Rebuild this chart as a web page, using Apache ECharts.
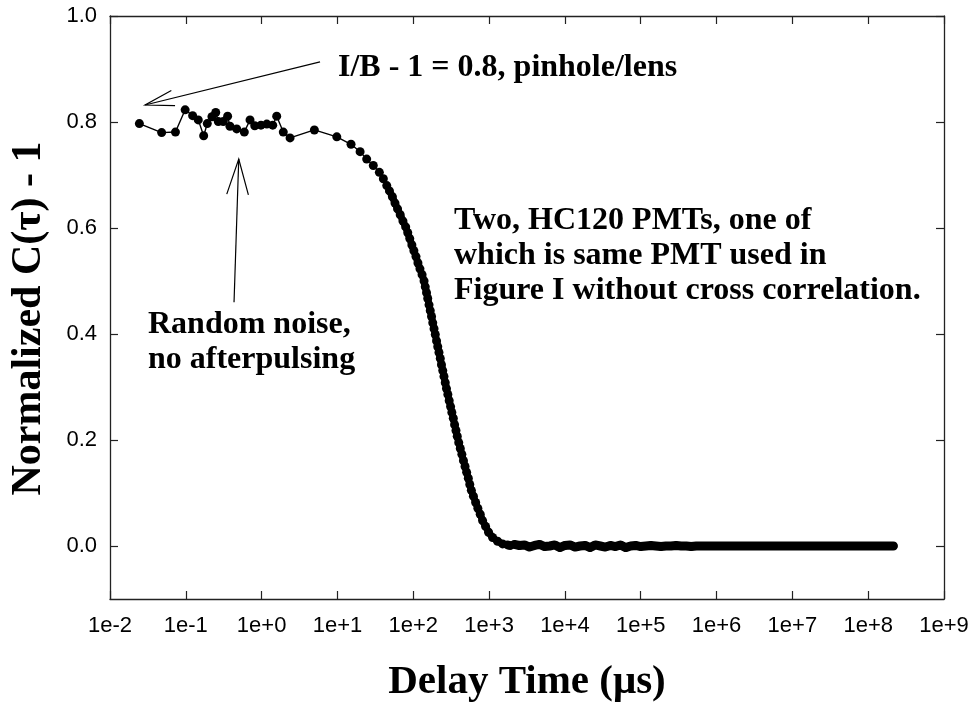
<!DOCTYPE html>
<html>
<head>
<meta charset="utf-8">
<script src="https://cdn.jsdelivr.net/npm/echarts@6.0.0/dist/echarts.min.js"></script>
<style>
  html, body { margin: 0; padding: 0; background: #fff; }
  #chart { width: 973px; height: 708px; }
</style>
</head>
<body>
<div id="chart"></div>
<script>
// delay time in microseconds, normalized correlation C(tau) - 1
// plateau: the sparse, noisy points before the decay
const plateauTimes = [0.0244, 0.048, 0.073, 0.098, 0.123, 0.146, 0.172, 0.192, 0.221, 0.248,
  0.268, 0.312, 0.356, 0.382, 0.469, 0.591, 0.703, 0.811, 0.98, 1.17, 1.40, 1.58, 1.93, 2.37,
  4.96, 9.8, 15.1, 19.9, 24.3, 29.7, 35.7, 40.3, 44.7];
const plateauValues = [0.797, 0.780, 0.781, 0.823, 0.812, 0.804, 0.774, 0.797, 0.810, 0.818,
  0.801, 0.801, 0.811, 0.792, 0.787, 0.781, 0.804, 0.793, 0.794, 0.796, 0.794, 0.811, 0.781, 0.770,
  0.785, 0.772, 0.758, 0.744, 0.730, 0.718, 0.705, 0.693, 0.680];

// decay: dense points along the drop
const decayTimes = [48.5, 53.0, 57.4, 62.1, 67.3, 73.1, 79.4, 84.6, 89.9, 95.9,
  101.9, 108.6, 115.3, 122.5, 130.6, 138.7, 143.9, 149.6, 155.2, 161.4,
  167.5, 174.2, 180.7, 187.9, 195.0, 202.8, 210.4, 218.3, 227.0, 235.5,
  244.9, 254.1, 264.2, 274.2, 285.8, 297.8, 310.5, 322.8, 337.3, 350.8,
  365.6, 380.2, 398.1, 416.9, 437.5, 459.2, 482.0, 505.8, 532.1, 556.2,
  583.4, 620.9, 665.3, 711.2, 763.8, 820.4, 899.5, 984.0, 1112, 1294,
  1507, 1754, 1892];
const decayValues = [0.670, 0.659, 0.647, 0.636, 0.625, 0.613, 0.602, 0.591, 0.580, 0.568,
  0.557, 0.546, 0.534, 0.523, 0.512, 0.500, 0.489, 0.478, 0.467, 0.455,
  0.444, 0.433, 0.421, 0.410, 0.399, 0.387, 0.376, 0.365, 0.354, 0.342,
  0.331, 0.320, 0.308, 0.297, 0.286, 0.274, 0.263, 0.252, 0.241, 0.229,
  0.218, 0.207, 0.195, 0.184, 0.173, 0.161, 0.150, 0.139, 0.128, 0.116,
  0.105, 0.094, 0.082, 0.071, 0.060, 0.048, 0.037, 0.026, 0.016, 0.009,
  0.004, 0.002, 0.001];

// baseline: flat tail out to ~2e8 us
const baselineTimes = [2150, 2510, 2930, 3410, 3980, 4640, 5410, 6310, 7360, 8580,
  1.00e4, 1.17e4, 1.36e4, 1.58e4, 1.85e4, 2.15e4, 2.51e4, 2.93e4, 3.41e4, 3.98e4, 4.64e4, 5.41e4, 6.31e4, 7.36e4, 8.58e4,
  1.00e5, 1.17e5, 1.36e5, 1.58e5, 1.85e5, 2.15e5, 2.51e5, 2.93e5, 3.41e5, 3.98e5, 4.64e5, 5.41e5, 6.31e5, 7.36e5, 8.58e5,
  1.00e6, 1.17e6, 1.36e6, 1.58e6, 1.85e6, 2.15e6, 2.51e6, 2.93e6, 3.41e6, 3.98e6, 4.64e6, 5.41e6, 6.31e6, 7.36e6, 8.58e6,
  1.00e7, 1.17e7, 1.36e7, 1.58e7, 1.85e7, 2.15e7, 2.51e7, 2.93e7, 3.41e7, 3.98e7, 4.64e7, 5.41e7, 6.31e7, 7.36e7, 8.58e7,
  1.00e8, 1.17e8, 1.36e8, 1.58e8, 1.85e8, 2.15e8];
const baselineValues = [0.003, 0.001, 0.002, -0.002, 0.001, 0.003, -0.001, 0.000, 0.002, -0.003,
  0.001, 0.002, -0.002, 0.000, 0.001, -0.003, 0.002, 0.000, -0.002, 0.001, -0.001, 0.002, -0.003, 0.000, 0.001,
  -0.001, 0.000, 0.001, 0.000, -0.001, 0.000, 0.000, 0.001, 0.000, 0.000, -0.001, 0.000, 0.000, 0.000, 0.000,
  0.000, 0.000, 0.000, 0.000, 0.000, 0.000, 0.000, 0.000, 0.000, 0.000, 0.000, 0.000, 0.000, 0.000, 0.000,
  0.000, 0.000, 0.000, 0.000, 0.000, 0.000, 0.000, 0.000, 0.000, 0.000, 0.000, 0.000, 0.000, 0.000, 0.000,
  0.000, 0.000, 0.000, 0.000, 0.000, 0.000];

const xTicks = [1e-2, 1e-1, 1e0, 1e1, 1e2, 1e3, 1e4, 1e5, 1e6, 1e7, 1e8, 1e9];
const yTicks = [0.0, 0.2, 0.4, 0.6, 0.8, 1.0];

const pair = (ts, vs) => ts.map((t, i) => [t, vs[i]]);

const serif = "'Liberation Serif', 'Times New Roman', serif";
const sans = "'Liberation Sans', Arial, sans-serif";

function expLabel(v) {
  const e = Math.round(Math.log10(v));
  return '1e' + (e < 0 ? '-' : '+') + Math.abs(e);
}

function xAxisBase(pos) {
  return {
    type: 'log', logBase: 10, min: 1e-2, max: 1e9, position: pos,
    axisLine: { show: true, onZero: false, lineStyle: { color: '#222', width: 1.3 } },
    axisTick: { show: true, inside: true, length: 8, customValues: xTicks, lineStyle: { color: '#222', width: 1.2 } },
    axisLabel: { show: pos === 'bottom', customValues: xTicks, formatter: expLabel, margin: 16,
      fontFamily: sans, fontSize: 22, color: '#000' },
    splitLine: { show: false }, minorTick: { show: false }
  };
}
function yAxisBase(pos) {
  return {
    type: 'value', min: -0.1, max: 1.0, position: pos,
    axisLine: { show: true, onZero: false, lineStyle: { color: '#222', width: 1.3 } },
    axisTick: { show: true, inside: true, length: 8, customValues: yTicks, lineStyle: { color: '#222', width: 1.2 } },
    axisLabel: { show: pos === 'left', customValues: yTicks, formatter: v => v.toFixed(1), margin: 13,
      fontFamily: sans, fontSize: 22, color: '#000' },
    splitLine: { show: false }
  };
}

const chart = echarts.init(document.getElementById('chart'), null, { renderer: 'canvas' });

const xBottom = Object.assign(xAxisBase('bottom'), {
  name: 'Delay Time (\u03bcs)', nameLocation: 'middle', nameGap: 63,
  nameTextStyle: { fontFamily: serif, fontWeight: 'bold', fontSize: 41, color: '#000' }
});
const yLeft = Object.assign(yAxisBase('left'), {
  name: 'Normalized C(\u03c4) - 1', nameLocation: 'middle', nameGap: 60, nameRotate: 90,
  nameTextStyle: { fontFamily: serif, fontWeight: 'bold', fontSize: 42, color: '#000', padding: [0, 22, 0, 0] }
});

// one trace, split in three so the dense parts can use a thicker joining line
const markerSeries = (data, lineWidth, size) => ({
  type: 'line',
  xAxisIndex: 0, yAxisIndex: 0,
  data: data,
  symbol: 'circle', symbolSize: size, showAllSymbol: true,
  itemStyle: { color: '#000', borderWidth: 0 },
  lineStyle: { color: '#000', width: lineWidth, cap: 'round', join: 'round' }
});

chart.setOption({
  animation: false,
  backgroundColor: '#fff',
  grid: { left: 110, right: 29, top: 16, bottom: 108, containLabel: false },
  xAxis: [xBottom, xAxisBase('top')],
  yAxis: [yLeft, yAxisBase('right')],
  series: [
    markerSeries(pair(plateauTimes, plateauValues), 1.4, 9),
    markerSeries(pair(decayTimes, decayValues), 7, 9),
    markerSeries(pair(baselineTimes, baselineValues), 9, 8)
  ]
});

// annotation arrows, anchored in data coordinates
const arrows = [
  { from: [5.89, 0.9135], to: [0.029, 0.832], head: 30, spread: 15 },
  { from: [0.4325, 0.460], to: [0.499, 0.730], head: 37, spread: 17 }
];

function arrowShapes(a) {
  const p0 = chart.convertToPixel({ seriesIndex: 0 }, a.from);
  const p1 = chart.convertToPixel({ seriesIndex: 0 }, a.to);
  const ang = Math.atan2(p0[1] - p1[1], p0[0] - p1[0]);
  const s = a.spread * Math.PI / 180;
  const h1 = [p1[0] + a.head * Math.cos(ang + s), p1[1] + a.head * Math.sin(ang + s)];
  const h2 = [p1[0] + a.head * Math.cos(ang - s), p1[1] + a.head * Math.sin(ang - s)];
  const st = { stroke: '#000', lineWidth: 1.2, fill: null };
  return [
    { type: 'line', z: 100, shape: { x1: p0[0], y1: p0[1], x2: p1[0], y2: p1[1] }, style: st },
    { type: 'polyline', z: 100, shape: { points: [h1, p1, h2] }, style: st }
  ];
}

function note(text, x, y) {
  return {
    type: 'text', z: 100,
    style: { text: text, x: x, y: y, align: 'left', verticalAlign: 'middle', lineHeight: 35,
      font: 'bold 32px ' + serif, fill: '#000' }
  };
}

let graphics = [
  note('I/B - 1 = 0.8, pinhole/lens', 338, 68),
  note('Two, HC120 PMTs, one of\nwhich is same PMT used in\nFigure I without cross correlation.', 454, 256),
  note('Random noise,\nno afterpulsing', 148, 342)
];
arrows.forEach(a => { graphics = graphics.concat(arrowShapes(a)); });
chart.setOption({ graphic: graphics });
</script>
</body>
</html>
